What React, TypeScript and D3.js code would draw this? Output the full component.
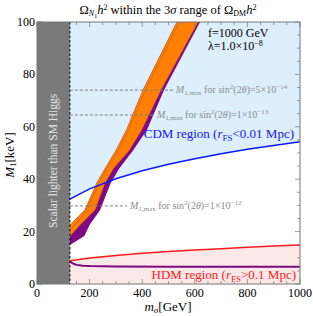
import * as d3 from "d3";

const W = 313;
const H = 316;
const M = { left: 37, right: 300, top: 22, bottom: 284 };

const X_TICKS = [0, 200, 400, 600, 800, 1000];
const Y_TICKS = [0, 20, 40, 60, 80, 100];
const HIGGS = 125; // GeV

// free-streaming boundaries
const CURVE_M = [125, 200, 300, 400, 500, 600, 700, 800, 900, 1000];
const CDM_M1 = [32.4, 36.3, 40.2, 43.2, 45.7, 47.8, 49.7, 51.4, 52.9, 54.3];
const HDM_M1 = [8.9, 9.9, 10.9, 11.7, 12.4, 13.0, 13.5, 14.0, 14.5, 14.9];

// lower purple branch
const LOW_M = [125, 135, 150, 175, 200, 300, 500, 1000];
const LOW_M1 = [8.6, 7.9, 7.3, 7.0, 6.85, 6.7, 6.6, 6.6];

// relic band edges (M1 in keV, m_sigma in GeV)
const LEFT_K = [22.5, 28.2, 38.5, 44, 51, 58.8, 74, 100];
const LEFT_G = [125, 182, 227, 258, 300, 340, 403, 532];
const RIGHT_K = [18.3, 22.5, 28.2, 38.5, 44, 51, 58.8, 74, 100];
const RIGHT_G = [125, 163, 220, 258, 290, 350, 398, 471, 612];
const EDGE_K = [14.9, 18.3, 22.5, 28.2, 38.5, 44, 51, 58.8, 74, 100];
const EDGE_G = [125, 180, 200, 240, 280, 312, 365, 418, 483, 620];
const INNER_K = [21, 28.2, 38.5, 44, 51, 58.8, 74, 100];
const INNER_G = [131, 190, 235, 266, 309, 349, 411, 541];

// M1,max lines for sin^2(2θ)
const MIX_M1 = [74, 64.5, 29.8];
const MIX_MANT = ["5", "1", "1"];
const MIX_EXP = ["−14", "−13", "−12"];
const MIX_LABEL_AT = [528, 456, 354]; // GeV where label starts

const SERIF = "'Liberation Serif', 'Times New Roman', 'DejaVu Serif', serif";

export default function App() {
  const x = d3.scaleLinear().domain([0, 1000]).range([M.left, M.right]);
  const y = d3.scaleLinear().domain([0, 100]).range([M.bottom, M.top]);

  const pts = (gs: number[], ks: number[]) => gs.map((g, i) => [x(g), y(ks[i])] as [number, number]);
  const line = d3.line<[number, number]>();

  const cdm = pts(CURVE_M, CDM_M1);
  const hdm = pts(CURVE_M, HDM_M1);
  const cdmArea = d3
    .area<[number, number]>()
    .x((d) => d[0])
    .y0(y(100))
    .y1((d) => d[1])(cdm);
  const hdmArea = d3
    .area<[number, number]>()
    .x((d) => d[0])
    .y0(y(0))
    .y1((d) => d[1])(hdm);

  const left = pts(LEFT_G, LEFT_K);
  const right = pts(RIGHT_G, RIGHT_K);
  const edge = pts(EDGE_G, EDGE_K);
  const purplePoly = line([...left.slice().reverse(), ...edge])! + "Z";
  const orangePoly = line([...left.slice().reverse(), ...right])! + "Z";

  const xMinor = d3.range(0, 1001, 50);
  const yMinor = d3.range(0, 101, 5);
  const frame = "#777";

  return (
    <svg width={W} height={H} style={{ position: "absolute", left: 0, top: 0, fontFamily: SERIF }}>
      <defs>
        <clipPath id="plot">
          <rect x={x(HIGGS)} y={M.top} width={M.right - x(HIGGS)} height={M.bottom - M.top} />
        </clipPath>
      </defs>
      <rect width={W} height={H} fill="#fff" />

      <g clipPath="url(#plot)">
        <path d={cdmArea!} fill="#ddeefc" />
        <path d={hdmArea!} fill="#fde8e8" />
        <path d={line(hdm)!} fill="none" stroke="#ff1a1a" strokeWidth={1.5} />
        <path d={line(pts(LOW_M, LOW_M1))!} fill="none" stroke="#7d0a84" strokeWidth={2} />
        <path d={purplePoly} fill="#7d0a84" />
        <path d={orangePoly} fill="#ff8000" stroke="#d8661a" strokeWidth={0.6} />
        <path d={line(pts(INNER_G, INNER_K))!} fill="none" stroke="#c8601c" strokeWidth={0.7} />
        <path d={line(cdm)!} fill="none" stroke="#0a1aff" strokeWidth={1.5} />
      </g>

      {/* scalar lighter than Higgs */}
      <rect x={M.left} y={M.top} width={x(HIGGS) - M.left} height={M.bottom - M.top} fill="#7a7a7a" />
      <line x1={x(HIGGS)} x2={x(HIGGS)} y1={M.top} y2={M.bottom} stroke="#000" strokeWidth={1} strokeDasharray="2.5,2" />
      <text
        transform={`translate(${(M.left + x(HIGGS)) / 2 + 4},${y(47)}) rotate(-90)`}
        textAnchor="middle"
        fontSize={11.5}
        fill="#e6e6e6"
      >
        Scalar lighter than SM Higgs
      </text>

      {/* M1,max lines */}
      {MIX_M1.map((v, i) => (
        <g key={i}>
          <line
            x1={x(HIGGS)}
            x2={x(MIX_LABEL_AT[i]) - 3}
            y1={y(v)}
            y2={y(v)}
            stroke="#7f7f7f"
            strokeWidth={1}
            strokeDasharray="3,2"
          />
          <text x={x(MIX_LABEL_AT[i])} y={y(v) + 3} fontSize={10} fill="#8c8c8c">
            <tspan fontStyle="italic">M</tspan>
            <tspan fontSize={7} dy={2}>1,max</tspan>
            <tspan dy={-2}> for sin</tspan>
            <tspan fontSize={7} dy={-4}>2</tspan>
            <tspan dy={4}>(2</tspan>
            <tspan fontStyle="italic">θ</tspan>
            <tspan>)={MIX_MANT[i]}×10</tspan>
            <tspan fontSize={7} dy={-4}>{MIX_EXP[i]}</tspan>
          </text>
        </g>
      ))}

      {/* frame + ticks */}
      <rect x={M.left} y={M.top} width={M.right - M.left} height={M.bottom - M.top} fill="none" stroke={frame} strokeWidth={1} />
      {xMinor.map((v) => {
        const len = v % 200 === 0 ? 5 : 3;
        return (
          <g key={"x" + v} stroke={frame} strokeWidth={0.7}>
            <line x1={x(v)} x2={x(v)} y1={M.bottom} y2={M.bottom - len} />
            <line x1={x(v)} x2={x(v)} y1={M.top} y2={M.top + len} />
          </g>
        );
      })}
      {yMinor.map((v) => {
        const len = v % 20 === 0 ? 5 : 3;
        return (
          <g key={"y" + v} stroke={frame} strokeWidth={0.7}>
            <line x1={M.left} x2={M.left + len} y1={y(v)} y2={y(v)} />
            <line x1={M.right} x2={M.right - len} y1={y(v)} y2={y(v)} />
          </g>
        );
      })}
      {X_TICKS.map((v) => (
        <text key={"xl" + v} x={x(v)} y={M.bottom + 13} textAnchor="middle" fontSize={12}>
          {v}
        </text>
      ))}
      {Y_TICKS.map((v) => (
        <text key={"yl" + v} x={M.left - 2} y={y(v) + 4} textAnchor="end" fontSize={12}>
          {v}
        </text>
      ))}

      {/* annotations */}
      <text x={208} y={37} fontSize={12}>f=1000 GeV</text>
      <text x={208} y={50} fontSize={12}>
        λ=1.0×10<tspan fontSize={8} dy={-4.5}>−8</tspan>
      </text>
      <text x={294} y={138} textAnchor="end" fontSize={13} fill="#1414f0">
        CDM region (<tspan fontStyle="italic">r</tspan>
        <tspan fontSize={9} dy={2.5}>FS</tspan>
        <tspan dy={-2.5}>&lt;0.01 Mpc)</tspan>
      </text>
      <text x={296} y={279} textAnchor="end" fontSize={13} fill="#ff1a1a">
        HDM region (<tspan fontStyle="italic">r</tspan>
        <tspan fontSize={9} dy={2.5}>FS</tspan>
        <tspan dy={-2.5}>&gt;0.1 Mpc)</tspan>
      </text>

      {/* title */}
      <text x={168} y={14} textAnchor="middle" fontSize={12.5}>
        Ω<tspan fontSize={8} fontStyle="italic" dy={2}>N</tspan>
        <tspan fontSize={6} dy={1.5}>1</tspan>
        <tspan fontStyle="italic" dy={-3.5}>h</tspan>
        <tspan fontSize={8} dy={-4.5}>2</tspan>
        <tspan dy={4.5}> within the 3</tspan>
        <tspan fontStyle="italic">σ</tspan>
        <tspan> range of Ω</tspan>
        <tspan fontSize={8} dy={2}>DM</tspan>
        <tspan fontStyle="italic" dy={-2}>h</tspan>
        <tspan fontSize={8} dy={-4.5}>2</tspan>
      </text>

      {/* axis labels */}
      <text x={168} y={311} textAnchor="middle" fontSize={13}>
        <tspan fontStyle="italic">m</tspan>
        <tspan fontSize={9} fontStyle="italic" dy={2}>σ</tspan>
        <tspan dy={-2}>[GeV]</tspan>
      </text>
      <text transform={`translate(14,${y(50) + 2}) rotate(-90)`} textAnchor="middle" fontSize={13}>
        <tspan fontStyle="italic">M</tspan>
        <tspan fontSize={9} dy={2}>1</tspan>
        <tspan dy={-2}>[keV]</tspan>
      </text>
    </svg>
  );
}
